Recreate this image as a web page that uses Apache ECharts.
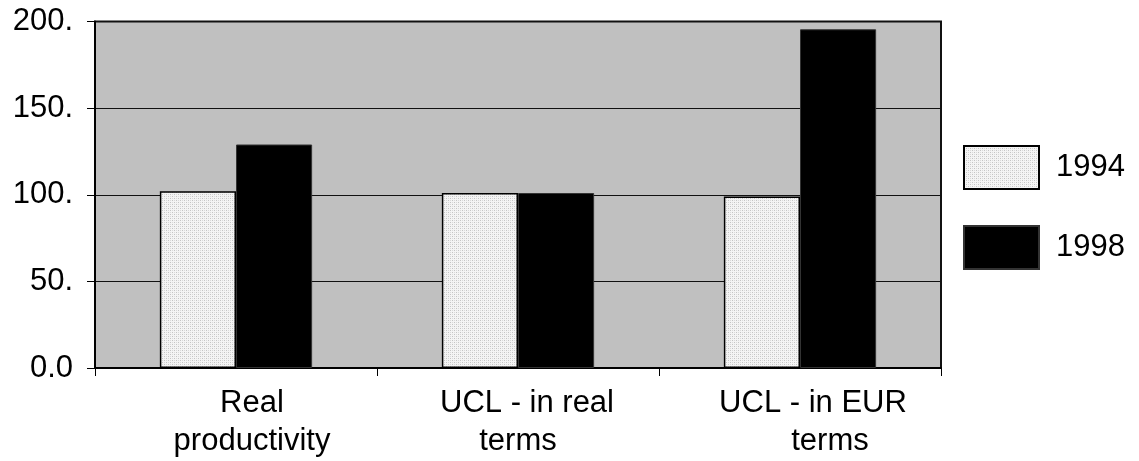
<!DOCTYPE html>
<html>
<head>
<meta charset="utf-8">
<script src="https://cdn.jsdelivr.net/npm/echarts@6/dist/echarts.min.js"></script>
<style>
html,body{margin:0;padding:0;background:#fff;}
#chart{width:1139px;height:461px;}
</style>
</head>
<body>
<div id="chart"></div>
<script>
const categories = ['Real\nproductivity', 'UCL - in real\nterms', 'UCL - in EUR\nterms'];
const seriesNames = ['1994', '1998'];
const values1994 = [102, 101, 99];
const values1998 = [129, 101, 195.5];
const yTicks = [0, 50, 100, 150, 200];

// light dotted fill pattern for the 1994 bars
function makePattern() {
  const c = document.createElement('canvas');
  c.width = 4; c.height = 4;
  const g = c.getContext('2d');
  g.fillStyle = '#f4f4f4';
  g.fillRect(0, 0, 4, 4);
  g.fillStyle = '#c4c4c4';
  g.fillRect(0, 0, 1, 1);
  g.fillRect(2, 2, 1, 1);
  g.fillStyle = '#dadada';
  g.fillRect(2, 0, 1, 1);
  g.fillRect(0, 2, 1, 1);
  return c;
}
const pattern = { image: makePattern(), repeat: 'repeat' };

const font = 'Liberation Sans, Arial, sans-serif';
// per-line horizontal nudges (px) of category label lines
const lineShift = [[16, 16], [9, 0], [13, 30]];
const rich = {};
lineShift.forEach((ls, i) => ls.forEach((s, j) => {
  rich['c' + i + '_' + j] = {
    fontSize: 31, fontFamily: font, color: '#000',
    lineHeight: 38, padding: [0, 0, 0, 2 * s]
  };
}));

const chart = echarts.init(document.getElementById('chart'));
chart.setOption({
  animation: false,
  backgroundColor: '#ffffff',
  grid: {
    left: 95, right: 198, top: 21.5, bottom: 93,
    show: true, backgroundColor: '#c0c0c0', borderColor: '#111', borderWidth: 2
  },
  legend: {
    orient: 'vertical',
    left: 958, top: 140,
    icon: 'rect',
    itemWidth: 75, itemHeight: 43, itemGap: 35,
    textStyle: { fontSize: 31, fontFamily: font, color: '#000', padding: [0, 0, 0, 12] },
    data: seriesNames
  },
  xAxis: {
    type: 'category',
    data: categories,
    axisLine: { lineStyle: { color: '#000', width: 2 } },
    axisTick: { show: true, length: 8, lineStyle: { color: '#000', width: 1 } },
    axisLabel: {
      margin: 16,
      interval: 0,
      formatter: function (v, idx) {
        return v.split('\n').map((t, j) => '{c' + idx + '_' + j + '|' + t + '}').join('\n');
      },
      rich: rich
    }
  },
  yAxis: {
    type: 'value',
    min: 0, max: 200, interval: 50,
    axisLine: { show: true, lineStyle: { color: '#000', width: 2 } },
    axisTick: { show: true, length: 8, lineStyle: { color: '#000', width: 1 } },
    splitLine: { show: true, lineStyle: { color: '#111', width: 1 } },
    axisLabel: {
      margin: 22,
      fontSize: 31, fontFamily: font, color: '#000',
      formatter: function (v) { return yTicks.indexOf(v) >= 0 ? (v === 0 ? '0.0' : v + '.') : ''; }
    }
  },
  series: [
    {
      name: seriesNames[0], type: 'bar', data: values1994,
      barGap: '0%', barCategoryGap: '46%',
      itemStyle: { color: pattern, borderColor: '#000', borderWidth: 1.5 }
    },
    {
      name: seriesNames[1], type: 'bar', data: values1998,
      barGap: '0%', barCategoryGap: '46%',
      itemStyle: { color: '#000', borderColor: '#333', borderWidth: 1 }
    }
  ]
});
</script>
</body>
</html>
